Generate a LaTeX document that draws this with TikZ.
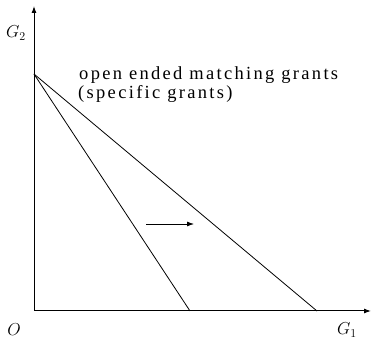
\documentclass[tikz,border=0pt]{standalone}
\usepackage{fontspec}
\setmainfont{Liberation Serif}
\newfontfamily\spaced[LetterSpace=12.5]{Liberation Serif}
\usetikzlibrary{arrows.meta}
\begin{document}
\begin{tikzpicture}[x=1pt,y=-1pt,
  axis/.style={line width=1pt,-{Latex[length=7pt,width=5pt]}},
  budget/.style={line width=0.8pt},
  lbl/.style={inner sep=0pt,font=\fontsize{17}{20}\selectfont},
  txt/.style={inner sep=0pt,anchor=base west,font=\spaced\fontsize{18.5}{21}\selectfont}]
\useasboundingbox (0,0) rectangle (375,344);
\coordinate (O) at (34,311);
\coordinate (ytop) at (34,6);
\coordinate (xend) at (371,311);
\coordinate (A) at (34,74);
\coordinate (B) at (190,311);
\coordinate (C) at (317,311);
\coordinate (s1) at (146,224);
\coordinate (s2) at (194,224);
\draw[axis] (O) -- (ytop);
\draw[axis] (O) -- (xend);
\draw[budget] (A) -- (B);
\draw[budget] (A) -- (C);
\draw[line width=0.8pt,-{Latex[length=7pt,width=5pt]}] (s1) -- (s2);
\node[lbl] (g2) at (16,33) {$G_2$};
\node[lbl] (o) at (14,330) {$O$};
\node[lbl] (g1) at (347,330) {$G_1$};
\node[txt] (t1) at (79,80) {open ended matching grants};
\node[txt] (t2) at (78,99) {(specific grants)};
\end{tikzpicture}
\end{document}
